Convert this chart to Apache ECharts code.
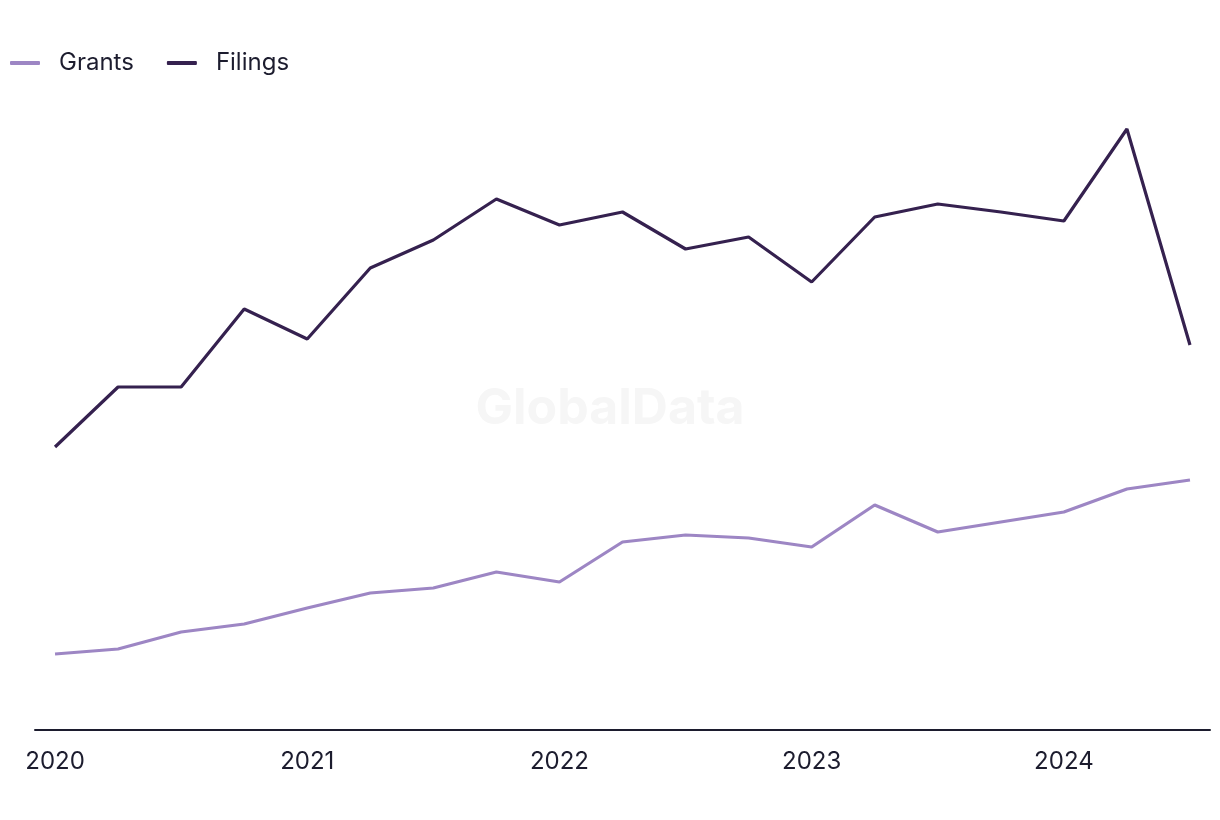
<!DOCTYPE html>
<html>
<head>
<meta charset="utf-8">
<script src="https://cdn.jsdelivr.net/npm/echarts@6/dist/echarts.min.js"></script>
<style>html,body{margin:0;padding:0;background:#fff}#c{width:1220px;height:820px}</style>
</head>
<body>
<div id="c"></div>
<script>
var quarters = ['2020Q1','2020Q2','2020Q3','2020Q4','2021Q1','2021Q2','2021Q3','2021Q4','2022Q1','2022Q2','2022Q3','2022Q4','2023Q1','2023Q2','2023Q3','2023Q4','2024Q1','2024Q2','2024Q3'];
var yearLabels = ['2020','2021','2022','2023','2024'];
var grants = [76, 81, 98, 106, 122, 137, 142, 158, 148, 188, 195, 192, 183, 225, 198, 208, 218, 241, 250];
var filings = [283, 343, 343, 421, 391, 462, 490, 531, 505, 518, 481, 493, 448, 513, 526, 518, 509, 601, 385];

function toPoints(arr){ return arr.map(function(v,i){ return [i, v]; }); }

var chart = echarts.init(document.getElementById('c'));
var font = 'Inter, "Noto Sans", sans-serif';
chart.setOption({
  animation: false,
  backgroundColor: '#ffffff',
  graphic: [{
    type: 'text', left: 'center', top: 384, z: 0,
    style: { text: 'GlobalData', fill: '#f6f6f6', font: 'bold 50px Inter, "Noto Sans", sans-serif' }
  }],
  legend: {
    left: 10, top: 51, padding: 0,
    icon: 'roundRect',
    itemWidth: 30, itemHeight: 4, itemGap: 33,
    textStyle: { fontFamily: font, fontSize: 24, color: '#1c1c2e', padding: [0,0,0,14] },
    data: ['Grants','Filings']
  },
  grid: { left: 35, right: 10, top: 80, bottom: 90, containLabel: false },
  xAxis: {
    type: 'value',
    min: -20/63, max: 18 + 20/63,
    splitLine: { show: false },
    axisTick: { show: false },
    axisLine: { show: true, lineStyle: { color: '#1c1c2e', width: 2 } },
    axisLabel: {
      customValues: [0,4,8,12,16],
      formatter: function(v){ return yearLabels[Math.round(v/4)]; },
      fontFamily: font, fontSize: 24, color: '#1c1c2e', margin: 20
    }
  },
  yAxis: {
    type: 'value', min: 0, max: 650,
    show: false, splitLine: { show: false }
  },
  series: [
    { name: 'Grants', type: 'line', data: toPoints(grants), showSymbol: false, symbol: 'none',
      lineStyle: { color: '#9d86c4', width: 3.2 }, itemStyle: { color: '#9d86c4' } },
    { name: 'Filings', type: 'line', data: toPoints(filings), showSymbol: false, symbol: 'none',
      lineStyle: { color: '#35214f', width: 3.2 }, itemStyle: { color: '#35214f' } }
  ]
});
</script>
</body>
</html>
